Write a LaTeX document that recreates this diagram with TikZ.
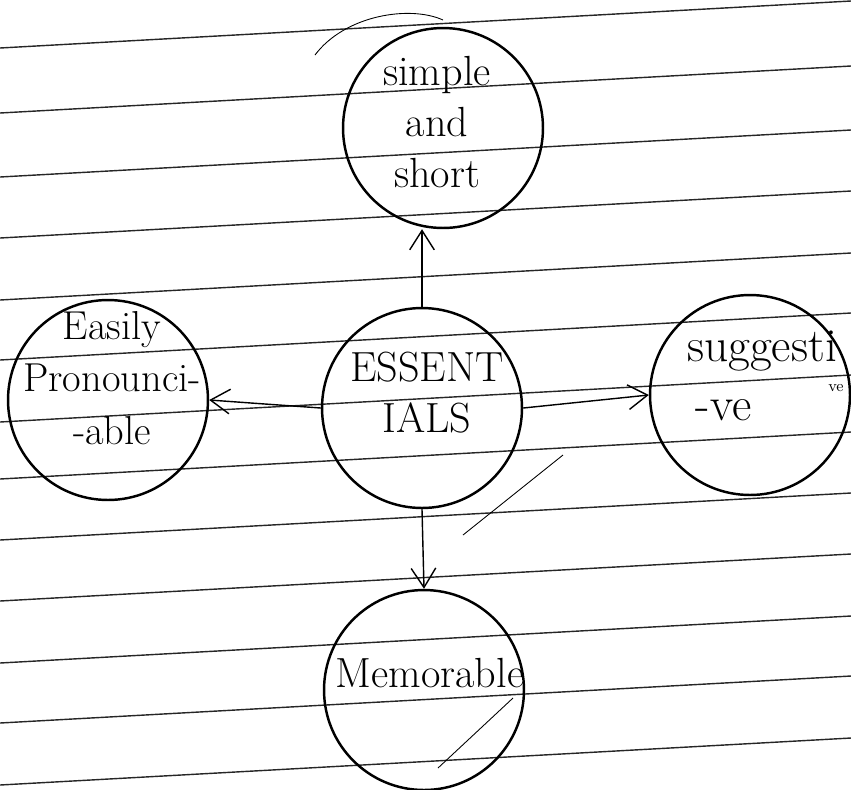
\documentclass[tikz,border=0pt]{standalone}
\usepackage{tikz}
\usetikzlibrary{arrows.meta}

\tikzset{
	bubble/.style = {draw, circle, line width=1.4pt, minimum size=4cm, inner sep=0pt},
	word/.style = {align=center, font=\fontsize{24}{29}\selectfont},
	ruling/.style = {black!85, line width=0.8pt},
	stray/.style = {line width=0.5pt}
}

\begin{document}
\begin{tikzpicture}[x=0.02cm, y=-0.02cm, >={Straight Barb[length=11pt, width=14pt]}]
\useasboundingbox (0,0) rectangle (851,789);

% ruled paper
\foreach \y in {48, 113, 177, 238, 300, 360, 422, 479, 540, 601, 663, 723, 785} {
	\draw[ruling] (0,\y)--(851,\y-47);
}

% circles
\node[bubble] (simple) at (443,128) {};
\node[bubble] (essentials) at (422,408) {};
\node[bubble] (pronounce) at (108,400) {};
\node[bubble] (suggestive) at (750,395) {};
\node[bubble] (memorable) at (424,690) {};

% texts
\node[word] (simple-text) at (437,122) {simple\\and\\short};
\node[word] (essentials-text) at (427,393) {ESSENT\\IALS};
\node[word, font=\fontsize{23}{30}\selectfont] (pronounce-text) at (112,378) {Easily\\Pronounci-\\-able};
\node[word, align=left, font=\fontsize{27}{34}\selectfont] (suggestive-text) at (762,376) {suggesti\\\hspace{5pt}-ve};
\node[font=\small] (suggestive-ve) at (836,388) {ve};
\node[word] (memorable-text) at (430,673) {Memorable};

% arrows
\draw[thick, ->] (essentials.north) -- (essentials.north |- simple.south);
\draw[thick, ->] (essentials.west) -- (pronounce.east);
\draw[thick, ->] (essentials.east) -- (suggestive.west);
\draw[thick, ->] (essentials.south) -- (memorable.north);

% stray pen marks
\draw[stray] (315,55) .. controls (345,15) and (410,5) .. (443,20);
\draw[stray] (563,455) -- (463,535);
\draw[stray] (513,698) -- (438,768);
\end{tikzpicture}
\end{document}
